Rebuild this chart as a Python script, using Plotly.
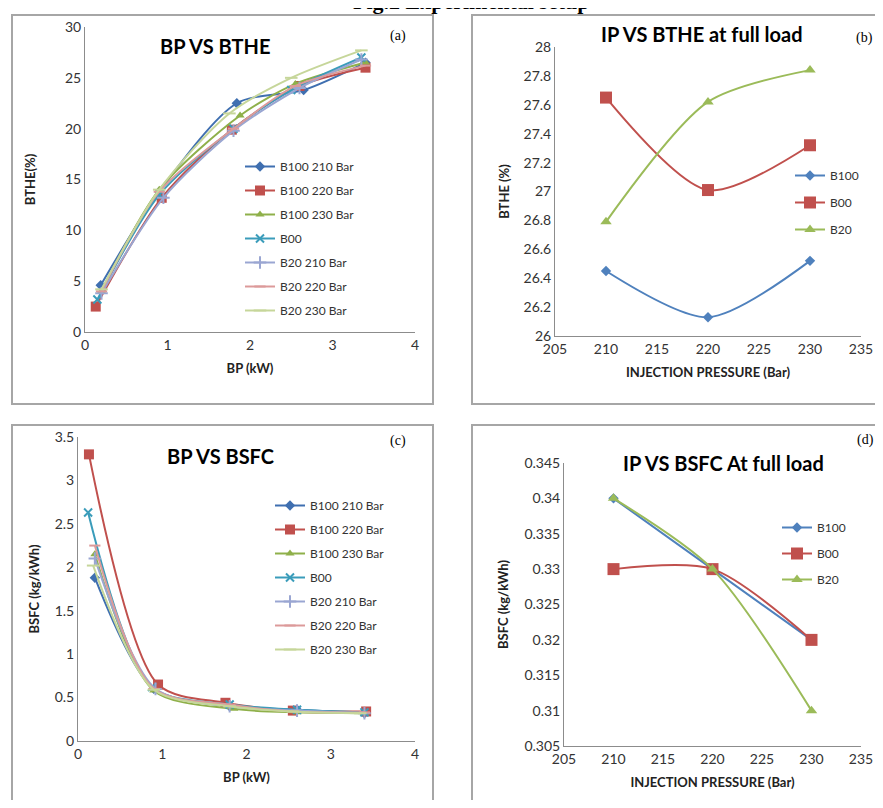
import plotly.graph_objects as go

# The page body has an 8px margin; keep the figure inside the viewport (no scrollbars)
OFF = 8
W, H = 883 - 2 * OFF, 808 - 2 * OFF
def px(x): return (x - OFF) / W
def py(y): return 1 - (y - OFF) / H

# ---------------- data ----------------
series_a = ["B100 210 Bar", "B100 220 Bar", "B100 230 Bar", "B00", "B20 210 Bar", "B20 220 Bar", "B20 230 Bar"]
a_x = [
    [0.19, 0.9, 1.84, 2.65, 3.4],
    [0.13, 0.93, 1.78, 2.6, 3.4],
    [0.2, 0.9, 1.88, 2.55, 3.4],
    [0.15, 0.9, 1.8, 2.5, 3.35],
    [0.2, 0.95, 1.8, 2.6, 3.35],
    [0.2, 0.9, 1.8, 2.55, 3.4],
    [0.2, 0.9, 1.75, 2.5, 3.35],
]
a_y = [
    [4.6, 13.8, 22.5, 23.8, 26.5],
    [2.5, 13.2, 19.9, 24.2, 26.0],
    [4.0, 14.0, 21.3, 24.4, 26.5],
    [3.2, 13.5, 20.0, 23.8, 27.0],
    [3.8, 13.2, 19.8, 24.0, 26.8],
    [4.0, 13.8, 20.0, 24.2, 26.2],
    [4.2, 14.0, 21.5, 25.0, 27.7],
]

ip = [210, 220, 230]
series_b = ["B100", "B00", "B20"]
b_y = [
    [26.45, 26.13, 26.52],
    [27.65, 27.01, 27.32],
    [26.79, 27.62, 27.84],
]

c_x = [
    [0.2, 0.9, 1.8, 2.6, 3.4],
    [0.13, 0.95, 1.75, 2.55, 3.42],
    [0.2, 0.9, 1.85, 2.6, 3.4],
    [0.12, 0.88, 1.8, 2.6, 3.4],
    [0.2, 0.92, 1.8, 2.6, 3.4],
    [0.2, 0.9, 1.8, 2.55, 3.4],
    [0.18, 0.9, 1.8, 2.55, 3.35],
]
c_y = [
    [1.88, 0.6, 0.4, 0.36, 0.32],
    [3.3, 0.65, 0.44, 0.35, 0.34],
    [2.15, 0.58, 0.37, 0.33, 0.32],
    [2.63, 0.62, 0.42, 0.36, 0.33],
    [2.1, 0.6, 0.4, 0.35, 0.32],
    [2.25, 0.6, 0.42, 0.34, 0.33],
    [2.02, 0.59, 0.4, 0.34, 0.32],
]

d_y = [
    [0.34, 0.33, 0.32],
    [0.33, 0.33, 0.32],
    [0.34, 0.33, 0.31],
]

# ---------------- styles ----------------
colors7 = ["#3f6fb0", "#c0504d", "#8fb04a", "#3a9cba", "#9aa6d2", "#dc9a9a", "#c6d69a"]
symbols7 = ["diamond", "square", "triangle-up", "x-thin", "cross-thin", "line-ew", "line-ew"]
sizes7 = [8, 10, 8, 8, 9, 8, 9]
colors3 = ["#4f81bd", "#c0504d", "#9bbb59"]
symbols3 = ["diamond", "square", "triangle-up"]
sizes3 = [8, 12, 10]

FONT = "Lato"
fig = go.Figure()

def add7(xs, ys, xa, ya, leg):
    for i, name in enumerate(series_a):
        thin = symbols7[i] in ("x-thin", "cross-thin", "line-ew")
        fig.add_trace(go.Scatter(
            x=xs[i], y=ys[i], name=name, mode="lines+markers",
            line=dict(color=colors7[i], width=2, shape="spline", smoothing=0.8),
            marker=dict(symbol=symbols7[i], size=sizes7[i], color=colors7[i],
                        line=dict(color=colors7[i], width=2 if thin else 0)),
            xaxis=xa, yaxis=ya, legend=leg, legendgroup=leg + str(i)))

def add3(ys, xa, ya, leg):
    for i, name in enumerate(series_b):
        fig.add_trace(go.Scatter(
            x=ip, y=ys[i], name=name, mode="lines+markers",
            line=dict(color=colors3[i], width=2, shape="spline", smoothing=0.8),
            marker=dict(symbol=symbols3[i], size=sizes3[i], color=colors3[i]),
            xaxis=xa, yaxis=ya, legend=leg, legendgroup=leg + str(i)))

add7(a_x, a_y, "x", "y", "legend")
add3(b_y, "x2", "y2", "legend2")
add7(c_x, c_y, "x3", "y3", "legend3")
add3(d_y, "x4", "y4", "legend4")

axis_common = dict(showgrid=False, zeroline=False, showline=True, linecolor="#8c8c8c",
                   linewidth=1, ticks="", automargin=False,
                   tickfont=dict(family=FONT, size=14, color="#333333"),
                   title_font=dict(family=FONT, size=13, color="#222222", weight="bold"))

fig.update_layout(
    template="none",
    width=W, height=H, margin=dict(l=0, r=0, t=0, b=0, pad=0),
    paper_bgcolor="white", plot_bgcolor="white", showlegend=True,
    xaxis=dict(domain=[px(85), px(415)], range=[0, 4], dtick=1, anchor="y",
               title=dict(text="BP (kW)", standoff=12), **axis_common),
    yaxis=dict(domain=[py(332), py(27)], range=[0, 30], dtick=5, anchor="x",
               title=dict(text="BTHE(%)", standoff=26), **axis_common),
    xaxis2=dict(domain=[px(555), px(861)], range=[205, 235], dtick=5, anchor="y2",
                title=dict(text="INJECTION PRESSURE (Bar)", standoff=12), **axis_common),
    yaxis2=dict(domain=[py(336), py(47)], range=[26, 28], dtick=0.2, anchor="x2",
                tickformat="~g", title=dict(text="BTHE (%)", standoff=10), **axis_common),
    xaxis3=dict(domain=[px(78), px(415)], range=[0, 4], dtick=1, anchor="y3",
                title=dict(text="BP (kW)", standoff=12), **axis_common),
    yaxis3=dict(domain=[py(741), py(437)], range=[0, 3.5], dtick=0.5, anchor="x3",
                tickformat="~g", title=dict(text="BSFC (kg/kWh)", standoff=12), **axis_common),
    xaxis4=dict(domain=[px(564), px(861)], range=[205, 235], dtick=5, anchor="y4",
                title=dict(text="INJECTION PRESSURE (Bar)", standoff=12), **axis_common),
    yaxis4=dict(domain=[py(746), py(463)], range=[0.305, 0.345], dtick=0.005, anchor="x4",
                tickformat="~g", title=dict(text="BSFC (kg/kWh)", standoff=12), **axis_common),
)

leg_common = dict(bgcolor="rgba(0,0,0,0)", font=dict(family=FONT, size=12, color="#333333"),
                  traceorder="grouped", itemwidth=30, xanchor="left", yanchor="top", borderwidth=0)
fig.update_layout(
    legend=dict(x=px(240), y=py(152), tracegroupgap=5, **leg_common),
    legend2=dict(x=px(790), y=py(161), tracegroupgap=8, **leg_common),
    legend3=dict(x=px(270), y=py(491), tracegroupgap=5, **leg_common),
    legend4=dict(x=px(777), y=py(513), tracegroupgap=7, **leg_common),
)

# panel borders
for (x0, y0, x1, y1) in [(12, 15, 433, 404), (472, 15, 895, 404), (12, 425, 433, 820), (472, 425, 895, 820)]:
    fig.add_shape(type="rect", xref="paper", yref="paper", x0=px(x0), x1=px(x1), y0=py(y1), y1=py(y0),
                  line=dict(color="#a6a6a6", width=2), fillcolor="rgba(0,0,0,0)", layer="below")

def ann(text, x, y, size, family=FONT, bold=True, xanchor="center"):
    fig.add_annotation(text=text, x=px(x), y=py(y), xref="paper", yref="paper", showarrow=False,
                       xanchor=xanchor, yanchor="middle",
                       font=dict(family=family, size=size, color="black", weight="bold" if bold else "normal"))

ann("BP VS BTHE", 215, 46, 20)
ann("(a)", 398, 36, 14, family="Liberation Serif", bold=False)
ann("IP VS BTHE at full load", 702, 34, 20)
ann("(b)", 864, 38, 14, family="Liberation Serif", bold=False)
ann("BP VS BSFC", 220, 456, 20)
ann("(c)", 398, 441, 14, family="Liberation Serif", bold=False)
ann("IP VS BSFC At full load", 723, 463, 20)
ann("(d)", 865, 440, 14, family="Liberation Serif", bold=False)

fig.add_annotation(text="Fig.2 Experimental setup", x=px(472), y=py(16), xref="paper", yref="paper",
                   showarrow=False, xanchor="center", yanchor="bottom",
                   font=dict(family="Liberation Serif", size=22, color="black", weight="bold"))

fig.write_html("out.html")
